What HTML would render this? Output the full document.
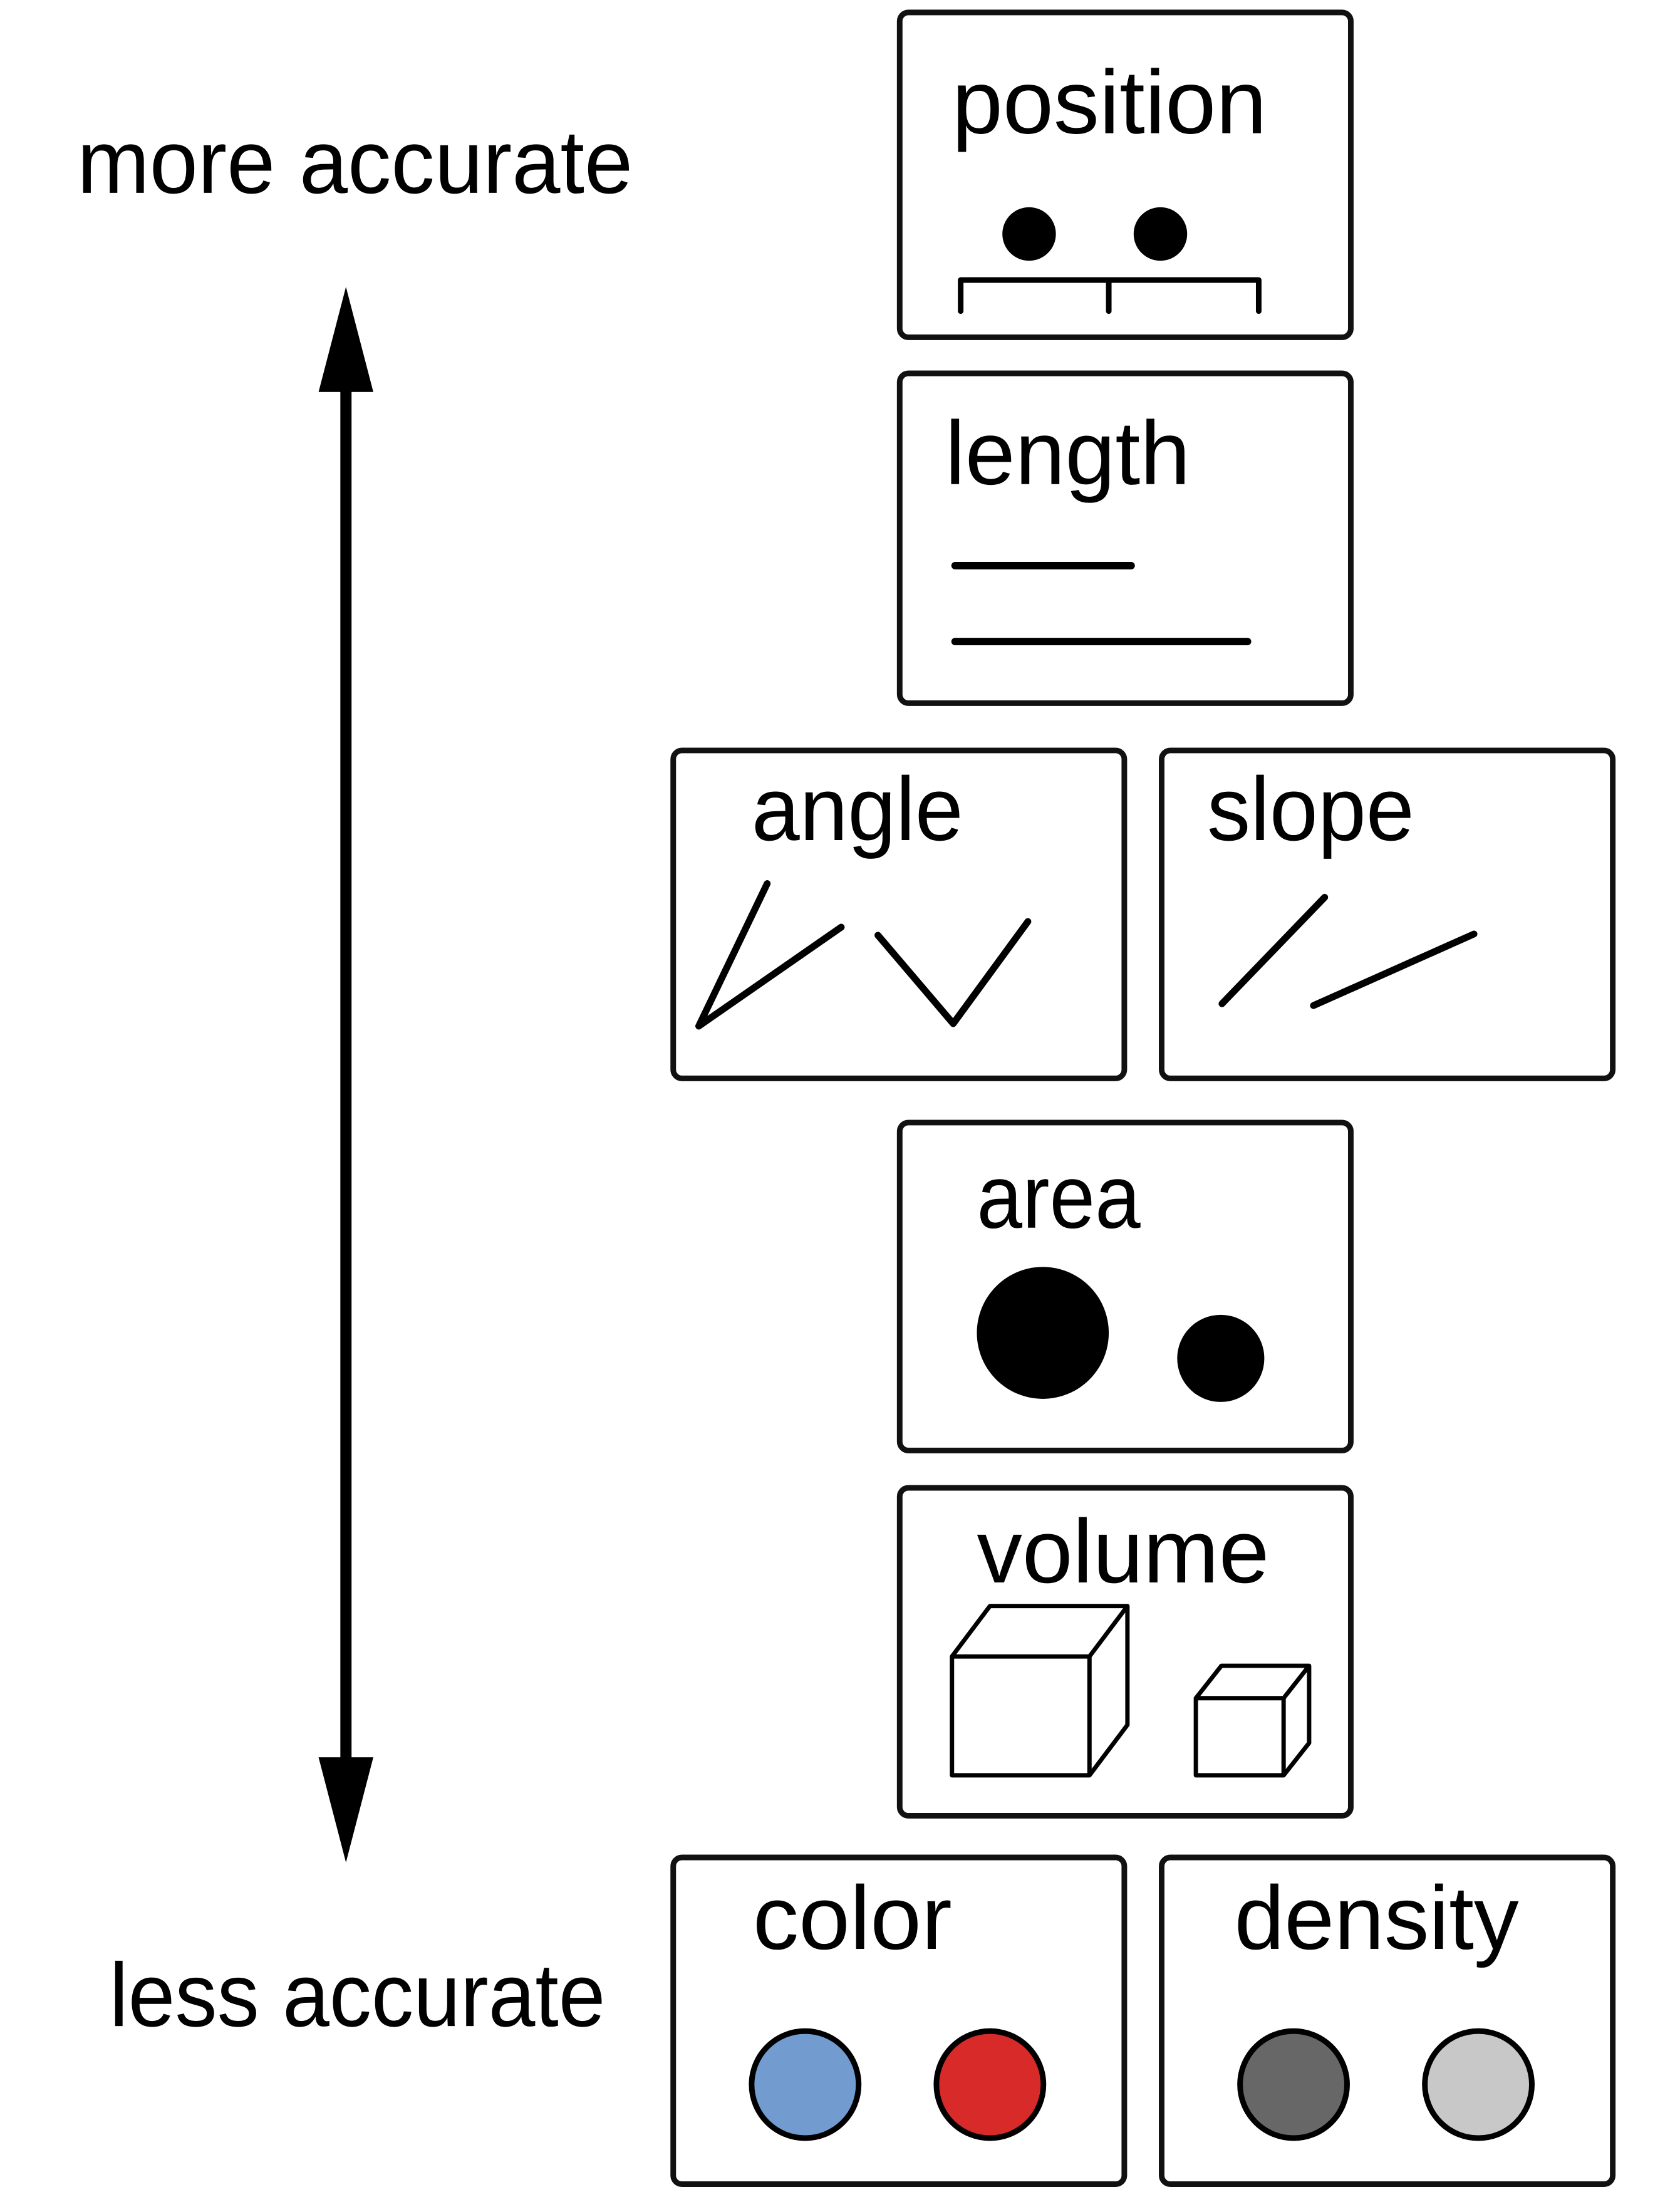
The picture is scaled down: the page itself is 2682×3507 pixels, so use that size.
<!DOCTYPE html>
<html><head><meta charset="utf-8"><style>
html,body{margin:0;padding:0;background:#fff;}
svg{display:block;}
text{font-family:"Liberation Sans",sans-serif;font-size:145px;fill:#000;}
</style></head><body>
<svg width="2682" height="3507" viewBox="0 0 2682 3507" xmlns="http://www.w3.org/2000/svg">
<rect width="2682" height="3507" fill="#fff"/>
<g transform="scale(0.9933)">
<g fill="none" stroke="#111" stroke-width="9">
<rect x="1446" y="20" width="725" height="522" rx="14"/>
<rect x="1446" y="600" width="725" height="530" rx="14"/>
<rect x="1082" y="1206" width="725" height="527" rx="14"/>
<rect x="1867" y="1206" width="725" height="527" rx="14"/>
<rect x="1446" y="1804" width="725" height="527" rx="14"/>
<rect x="1446" y="2391" width="725" height="527" rx="14"/>
<rect x="1082" y="2985" width="725" height="525" rx="14"/>
<rect x="1867" y="2985" width="725" height="525" rx="14"/>
</g>
<text x="1530" y="214" textLength="506" lengthAdjust="spacingAndGlyphs">position</text>
<text x="1519" y="778" textLength="394" lengthAdjust="spacingAndGlyphs">length</text>
<text x="1208" y="1350" textLength="340" lengthAdjust="spacingAndGlyphs">angle</text>
<text x="1940" y="1350" textLength="333" lengthAdjust="spacingAndGlyphs">slope</text>
<text x="1570" y="1973" textLength="263" lengthAdjust="spacingAndGlyphs">area</text>
<text x="1570" y="2543" textLength="470" lengthAdjust="spacingAndGlyphs">volume</text>
<text x="1210" y="3132" textLength="320" lengthAdjust="spacingAndGlyphs">color</text>
<text x="1984" y="3132" textLength="457" lengthAdjust="spacingAndGlyphs">density</text>
<text x="124" y="310" textLength="893" lengthAdjust="spacingAndGlyphs">more accurate</text>
<text x="176" y="3256" textLength="797" lengthAdjust="spacingAndGlyphs">less accurate</text>
<line x1="556" y1="610" x2="556" y2="2840" stroke="#000" stroke-width="18"/>
<polygon points="556,461 512,630 600,630" fill="#000"/>
<polygon points="556,2993 512,2824 600,2824" fill="#000"/>
<circle cx="1654" cy="376" r="43" fill="#000"/>
<circle cx="1865" cy="376" r="43" fill="#000"/>
<path d="M1544,500 V450 H2023 V500 M1782,450 V500" fill="none" stroke="#000" stroke-width="9" stroke-linecap="round" stroke-linejoin="round"/>
<g stroke="#000" stroke-width="12" stroke-linecap="round">
<line x1="1535" y1="909" x2="1818" y2="909"/>
<line x1="1535" y1="1031" x2="2005" y2="1031"/>
</g>
<g fill="none" stroke="#000" stroke-width="11" stroke-linecap="round" stroke-linejoin="round">
<polyline points="1233,1420 1123,1649 1352,1490"/>
<polyline points="1411,1503 1532,1645 1652,1481"/>
<line x1="1964" y1="1613" x2="2129" y2="1442"/>
<line x1="2111" y1="1616" x2="2369" y2="1501"/>
</g>
<circle cx="1676" cy="2142" r="106" fill="#000"/>
<circle cx="1962" cy="2183" r="70" fill="#000"/>
<g fill="none" stroke="#000" stroke-width="7" stroke-linejoin="round">
<rect x="1530" y="2662" width="221" height="191"/>
<path d="M1530,2662 L1591,2581 H1812 V2772 L1751,2853 M1751,2662 L1812,2581"/>
<rect x="1922" y="2729" width="141" height="124"/>
<path d="M1922,2729 L1963,2677 H2104 V2801 L2063,2853 M2063,2729 L2104,2677"/>
</g>
<g stroke="#000" stroke-width="9">
<circle cx="1294" cy="3350" r="86" fill="#729ccf"/>
<circle cx="1591" cy="3350" r="86" fill="#d92a2a"/>
<circle cx="2079" cy="3350" r="86" fill="#676767"/>
<circle cx="2376" cy="3350" r="86" fill="#c8c8c8"/>
</g>
</g>
</svg>
</body></html>
